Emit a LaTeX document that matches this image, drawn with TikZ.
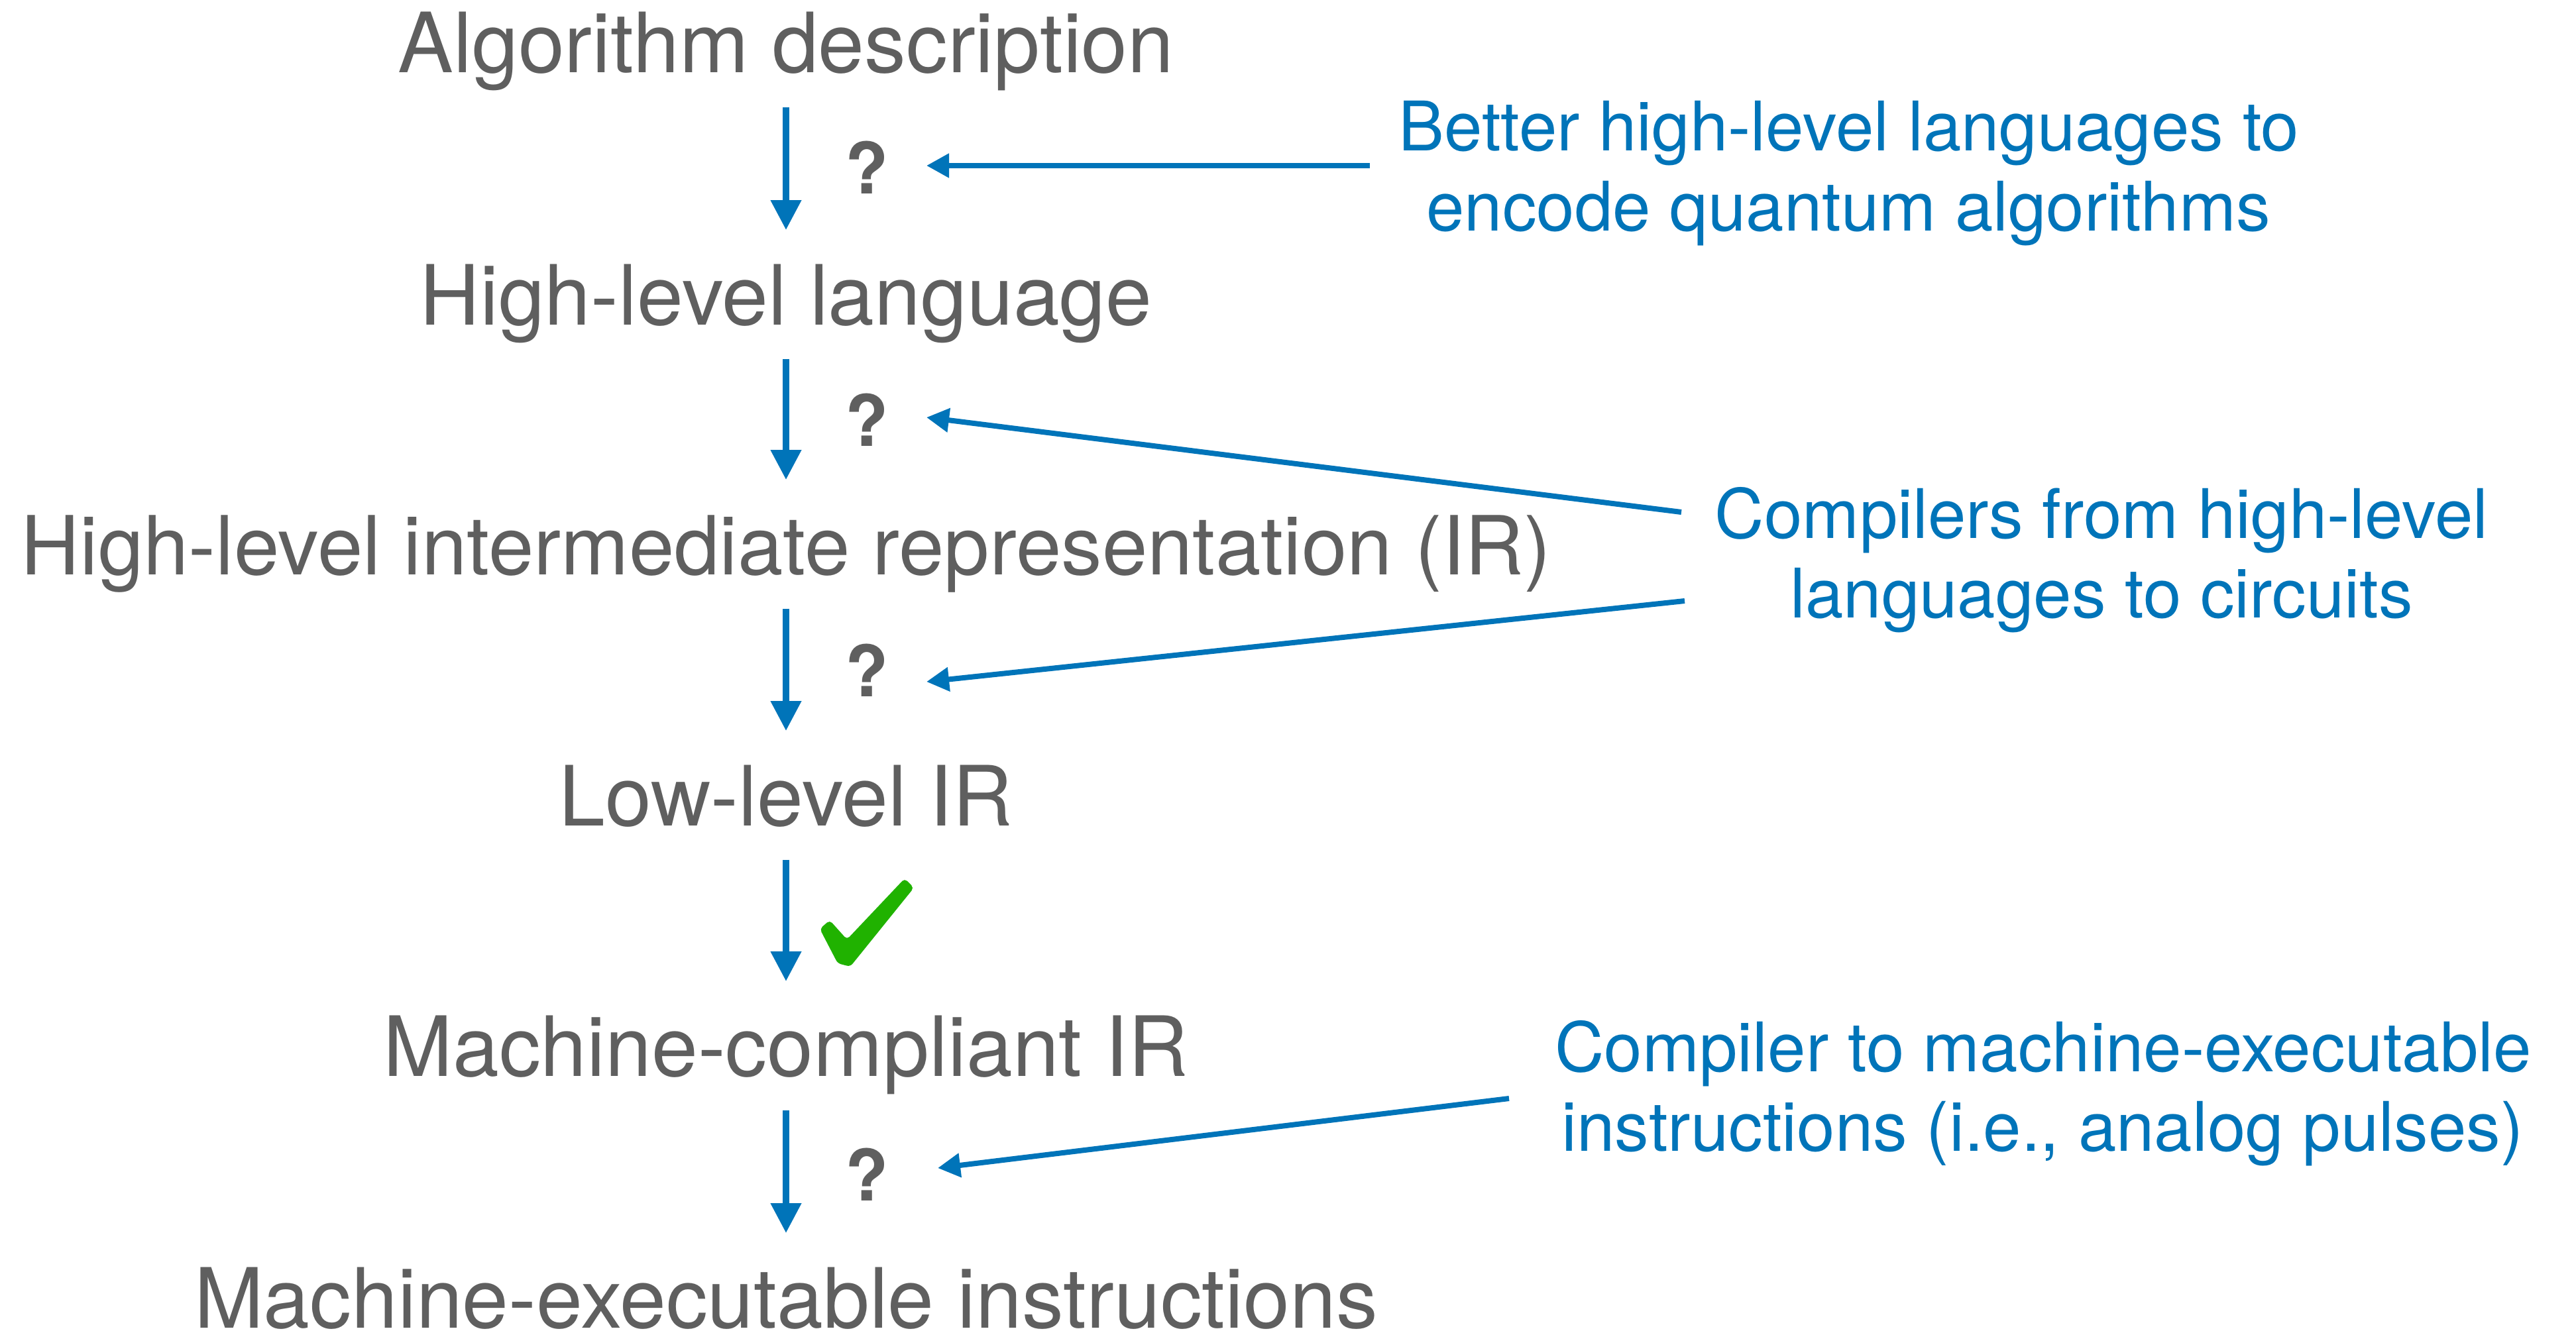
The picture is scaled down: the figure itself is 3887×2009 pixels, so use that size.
\documentclass[tikz,border=0pt]{standalone}
\usepackage{fontspec}
\setmainfont{TeX Gyre Heros}
\usetikzlibrary{arrows.meta}
\definecolor{txtgray}{HTML}{5F5F5F}
\definecolor{annblue}{HTML}{0074B9}
\definecolor{chkgreen}{HTML}{20B200}
\begin{document}
\begin{tikzpicture}[x=0.01cm,y=-0.01cm,
  level/.style={font=\fontsize{35.7pt}{41pt}\selectfont, text=txtgray, inner sep=0pt, anchor=base, text height=0.88cm, text depth=0.25cm},
  qmark/.style={font=\fontsize{30.4pt}{36pt}\selectfont\bfseries, text=txtgray, inner sep=0pt, anchor=base},
  note/.style={font=\fontsize{29.35pt}{34.1pt}\selectfont, text=annblue, inner sep=0pt, anchor=base},
  flow/.style={draw=annblue, line width=0.1cm, -{Triangle[length=0.45cm,width=0.44cm]}, shorten <=0.26cm, shorten >=0.54cm},
  pointer/.style={draw=annblue, line width=0.08cm, -{Triangle[length=0.34cm,width=0.35cm]}}
]
\useasboundingbox (0,0) rectangle (3887,2009);

% main chain
\node[level] (n1) at (1186,110)  {Algorithm description};
\node[level] (n2) at (1186,490)  {High-level language};
\node[level, font=\fontsize{35.0pt}{41pt}\selectfont] (n3) at (1186,867)  {High-level intermediate representation (IR)};
\node[level] (n4) at (1186,1246) {Low-level IR};
\node[level] (n5) at (1186,1624) {Machine-compliant IR};
\node[level, text depth=0pt] (n6) at (1186,2004) {Machine-executable instructions};

\draw[flow] (n1) -- (n2);
\draw[flow] (n2) -- (n3);
\draw[flow] (n3) -- (n4);
\draw[flow] (n4) -- (n5);
\draw[flow] (n5) -- (n6);

% question marks
\node[qmark] (q1) at (1308,293)  {?};
\node[qmark] (q2) at (1308,673)  {?};
\node[qmark] (q3) at (1308,1051) {?};
\node[qmark] (q4) at (1308,1812) {?};

% check mark
\fill[chkgreen, rounded corners=1.5pt] (1237,1402) -- (1252,1389) -- (1278,1418) -- (1365,1326)
  -- (1379,1340) -- (1283,1459) -- (1264,1454) -- cycle;

% notes
\node[note] (b1a) at (2790,228)  {Better high-level languages to};
\node[note] (b1b) at (2789,348)  {encode quantum algorithms};
\node[note] (b2a) at (3171,812)  {Compilers from high-level};
\node[note] (b2b) at (3171,932)  {languages to circuits};
\node[note] (b3a) at (3083,1617) {Compiler to machine-executable};
\node[note] (b3b) at (3082,1737) {instructions (i.e., analog pulses)};

% pointer ends
\coordinate (s1) at (2067,250);
\coordinate (t1) at (1398,250);
\coordinate (s2) at (2537,773);
\coordinate (t2) at (1398,630);
\coordinate (s3) at (2542,907);
\coordinate (t3) at (1398,1029);
\coordinate (s4) at (2277,1658);
\coordinate (t4) at (1415,1763);

\draw[pointer] (s1) -- (t1);
\draw[pointer] (s2) -- (t2);
\draw[pointer] (s3) -- (t3);
\draw[pointer] (s4) -- (t4);
\end{tikzpicture}
\end{document}
